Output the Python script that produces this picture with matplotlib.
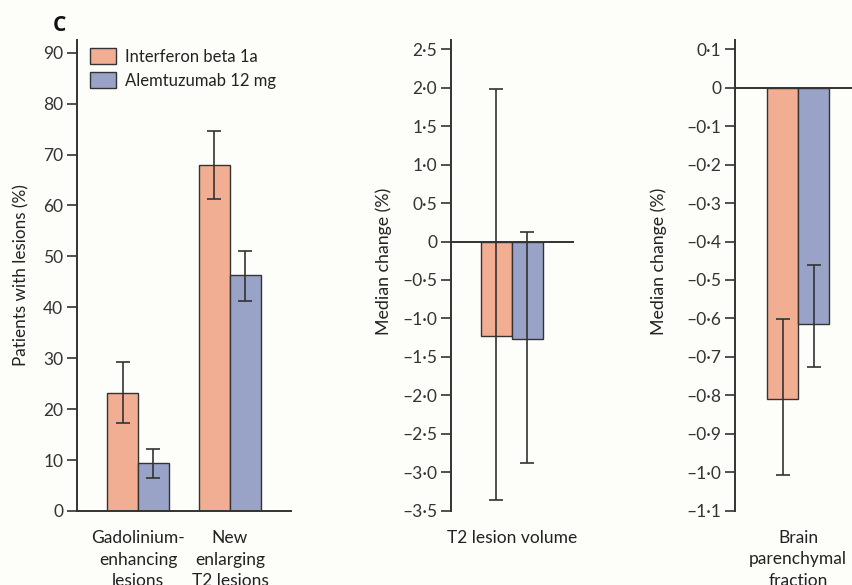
import numpy as np
import matplotlib.pyplot as plt
from matplotlib.ticker import FuncFormatter

plt.rcParams['font.family'] = ['Lato', 'DejaVu Sans']

# Data
groups = ["Interferon beta 1a", "Alemtuzumab 12 mg"]
colours = ["#f2ae92", "#99a3c7"]

lesion_cats = ["Gadolinium-\nenhancing\nlesions", "New\nenlarging\nT2 lesions"]
lesion_ifn = [23.2, 67.9]
lesion_ifn_lo = [17.2, 61.2]
lesion_ifn_hi = [29.2, 74.7]
lesion_alem = [9.4, 46.3]
lesion_alem_lo = [6.5, 41.3]
lesion_alem_hi = [12.2, 51.0]

t2_cat = ["T2 lesion volume"]
t2_ifn = [-1.23]
t2_ifn_lo = [-3.36]
t2_ifn_hi = [1.98]
t2_alem = [-1.27]
t2_alem_lo = [-2.88]
t2_alem_hi = [0.13]

bpf_cat = ["Brain\nparenchymal\nfraction"]
bpf_ifn = [-0.81]
bpf_ifn_lo = [-1.008]
bpf_ifn_hi = [-0.602]
bpf_alem = [-0.615]
bpf_alem_lo = [-0.726]
bpf_alem_hi = [-0.46]

ink = "#333333"
bg = "#fdfdf9"
w = 0.337


def fmt(decimals):
    def f(v, pos):
        s = f"{abs(v):.{decimals}f}".replace(".", "\u00b7")
        if abs(v) < 1e-9:
            return "0"
        return ("\u2013" if v < 0 else "") + s
    return FuncFormatter(f)


def draw(ax, cats, a, alo, ahi, b, blo, bhi):
    x = np.arange(len(cats))
    for off, vals, lo, hi, c, lab in [(-w / 2, a, alo, ahi, colours[0], groups[0]),
                                      (w / 2, b, blo, bhi, colours[1], groups[1])]:
        vals = np.array(vals)
        err = [vals - np.array(lo), np.array(hi) - vals]
        ax.bar(x + off, vals, w, color=c, edgecolor=ink, linewidth=1.0,
               label=lab, zorder=2)
        ax.errorbar(x + off, vals, yerr=err, fmt="none", ecolor=ink,
                    elinewidth=1.2, capsize=5, capthick=1.2, zorder=3)
    ax.set_xticks(x)
    ax.set_xticklabels(cats, fontsize=12.5, linespacing=1.4)
    ax.tick_params(axis="x", length=0, pad=14, colors="#222222")
    ax.tick_params(axis="y", length=7, width=1.2, labelsize=12.5,
                   color=ink, labelcolor="#333333", pad=3)
    for s in ["top", "right"]:
        ax.spines[s].set_visible(False)
    ax.spines["left"].set_color(ink)
    ax.spines["left"].set_linewidth(1.4)
    ax.set_facecolor(bg)


fig = plt.figure(figsize=(8.52, 5.85), dpi=100, facecolor=bg)

ax1 = fig.add_axes([0.0904, 0.1265, 0.2511, 0.8051])
draw(ax1, lesion_cats, lesion_ifn, lesion_ifn_lo, lesion_ifn_hi,
     lesion_alem, lesion_alem_lo, lesion_alem_hi)
ax1.set_xlim(-0.663, 1.663)
ax1.set_ylim(0, 92.5)
ax1.set_yticks(np.arange(0, 91, 10))
ax1.yaxis.set_major_formatter(fmt(0))
ax1.spines["bottom"].set_color(ink)
ax1.spines["bottom"].set_linewidth(1.4)
ax1.set_ylabel("Patients with lesions (%)", fontsize=12.3, color="#222222", labelpad=10)
leg = ax1.legend(loc="upper left", bbox_to_anchor=(0.02, 1.0), frameon=False,
                 fontsize=12, handlelength=1.6, handleheight=1.05,
                 handletextpad=0.5, labelspacing=0.45, borderaxespad=0.1)
for t in leg.get_texts():
    t.set_color("#222222")

ax2 = fig.add_axes([0.5293, 0.1270, 0.1444, 0.8046])
draw(ax2, t2_cat, t2_ifn, t2_ifn_lo, t2_ifn_hi, t2_alem, t2_alem_lo, t2_alem_hi)
ax2.set_xlim(-0.663, 0.674)
ax2.set_ylim(-3.5, 2.62)
ax2.set_yticks(np.arange(-3.5, 2.51, 0.5))
ax2.yaxis.set_major_formatter(fmt(1))
ax2.spines["bottom"].set_visible(False)
ax2.axhline(0, color=ink, linewidth=1.4, zorder=4)
ax2.set_ylabel("Median change (%)", fontsize=12.8, color="#222222", labelpad=3)
ax2.yaxis.set_label_coords(-0.48, 0.53)

ax3 = fig.add_axes([0.8627, 0.1270, 0.1373, 0.8046])
draw(ax3, bpf_cat, bpf_ifn, bpf_ifn_lo, bpf_ifn_hi, bpf_alem, bpf_alem_lo, bpf_alem_hi)
ax3.set_xlim(-0.685, 0.587)
ax3.set_ylim(-1.1, 0.124)
ax3.set_yticks(np.arange(-1.1, 0.11, 0.1))
ax3.yaxis.set_major_formatter(fmt(1))
ax3.spines["bottom"].set_visible(False)
ax3.axhline(0, color=ink, linewidth=1.4, zorder=4)
ax3.set_ylabel("Median change (%)", fontsize=12.8, color="#222222", labelpad=3)
ax3.yaxis.set_label_coords(-0.58, 0.53)

fig.text(0.062, 0.957, "C", fontsize=15, fontweight="bold", color="#111111",
         family=["Open Sans", "DejaVu Sans"], ha="left", va="center")

fig.savefig("out.png", dpi=100, facecolor=bg)
